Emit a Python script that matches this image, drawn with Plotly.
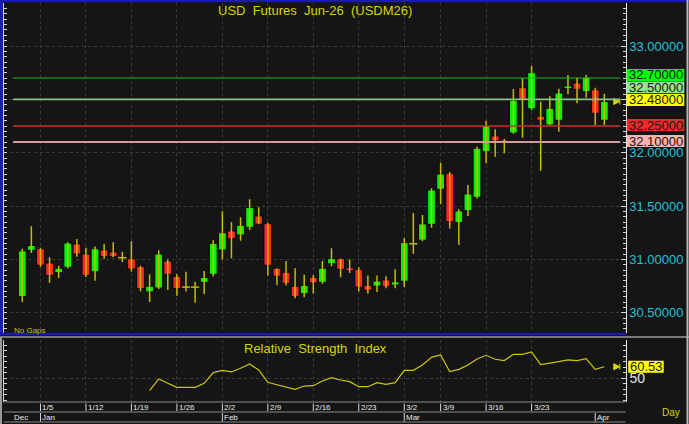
import plotly.graph_objects as go

W, H = 689, 424

# ---------------- data ----------------
open_ = [30.65, 31.085, 31.10, 30.966, 30.875, 30.926, 31.145, 31.05, 30.885, 31.088,
         31.07, 31.016, 31.007, 30.932, 30.695, 30.732, 30.985, 30.842, 30.74, 30.74,
         30.785, 30.86, 31.088, 31.266, 31.229, 31.30, 31.407, 31.335, 30.917, 30.879,
         30.748, 30.679, 30.832, 30.785, 30.96, 31.007, 30.92, 30.907, 30.757, 30.75,
         30.807, 30.76, 30.795, 31.147, 31.18, 31.329, 31.657, 31.807, 31.344, 31.456,
         31.582, 32.009, 32.157, 32.119, 32.185, 32.609, 32.412, 32.341, 32.26, 32.304,
         32.60, 32.653, 32.572, 32.59, 32.304]
high_ = [31.10, 31.31, 31.11, 31.02, 30.94, 31.16, 31.19, 31.11, 31.12, 31.145,
         31.16, 31.072, 31.17, 30.94, 30.86, 31.085, 31.00, 30.86, 30.885, 30.79,
         30.89, 31.18, 31.45, 31.35, 31.395, 31.563, 31.488, 31.344, 30.917, 30.985,
         30.917, 30.857, 30.854, 30.985, 31.104, 31.007, 31.00, 30.926, 30.85, 30.85,
         30.842, 30.907, 31.20, 31.435, 31.416, 31.666, 31.906, 31.82, 31.472, 31.697,
         32.056, 32.30, 32.22, 32.131, 32.597, 32.697, 32.813, 32.478, 32.53, 32.60,
         32.728, 32.703, 32.728, 32.609, 32.553]
low_ = [30.60, 31.06, 30.93, 30.78, 30.826, 30.917, 31.025, 30.835, 30.80, 31.007,
        31.02, 30.976, 30.885, 30.70, 30.60, 30.722, 30.713, 30.66, 30.70, 30.594,
        30.676, 30.84, 31.00, 31.01, 31.175, 31.276, 31.33, 30.85, 30.757, 30.757,
        30.635, 30.645, 30.68, 30.772, 30.935, 30.832, 30.873, 30.70, 30.68, 30.695,
        30.73, 30.729, 30.74, 31.053, 31.17, 31.297, 31.516, 31.29, 31.135, 31.407,
        31.57, 31.90, 31.963, 31.995, 32.178, 32.14, 32.40, 31.83, 32.257, 32.197,
        32.547, 32.463, 32.515, 32.26, 32.26]
close_ = [31.08, 31.13, 30.945, 30.85, 30.917, 31.154, 31.05, 30.85, 31.10, 31.025,
          31.025, 31.016, 30.91, 30.725, 30.748, 31.05, 30.86, 30.725, 30.74, 30.74,
          30.83, 31.15, 31.25, 31.194, 31.32, 31.485, 31.33, 30.945, 30.842, 30.776,
          30.65, 30.757, 30.779, 30.917, 31.007, 30.907, 30.894, 30.74, 30.71, 30.797,
          30.744, 30.79, 31.157, 31.147, 31.332, 31.65, 31.80, 31.353, 31.454, 31.613,
          32.041, 32.253, 32.11, 32.097, 32.491, 32.487, 32.75, 32.304, 32.416, 32.56,
          32.625, 32.594, 32.707, 32.369, 32.48]
rsi = [None] * 14 + [
    38.8, 49.4, 45.5, 41.8, 41.8, 41.8, 45.5, 55.2, 57.3, 55.8,
    59.1, 63.0, 57.6, 46.4, 44.2, 42.4, 40.0, 43.0, 43.3, 47.6,
    50.6, 48.5, 47.0, 42.4, 42.4, 46.1, 44.5, 46.1, 57.3, 57.3,
    62.1, 69.1, 71.2, 56.1, 58.2, 62.1, 67.6, 70.9, 67.3, 66.1,
    71.8, 71.8, 73.9, 62.4, 63.6, 65.2, 66.7, 66.1, 67.9, 58.2, 60.53]

week_labels = ["1/5", "1/12", "1/19", "1/26", "2/2", "2/9", "2/16", "2/23",
               "3/2", "3/9", "3/16", "3/23"]
week_idx = [2, 7, 12, 17, 22, 27, 32, 37, 42, 46, 51, 56]
month_labels = ["Jan", "Feb", "Mar", "Apr"]
month_idx = [2, 22, 42, 63]

levels = [32.70, 32.50, 32.25, 32.10]
level_line_colors = ["#1fb81f", "#86c486", "#c83232", "#d49a9a"]
level_line_widths = [1, 1.6, 1.4, 2]
level_box_colors = ["#00ff00", "#8fe88f", "#ec2b2b", "#f7b3b3"]
level_shift = [3, 12, 1, 1]
last_shift = 1.5

# ---------------- helpers ----------------
def fx(p):
    return p / W

def fy(p):
    return 1 - p / H

n = len(close_)
xs = list(range(n))

BG = "#151515"
GRID = "#3a3a3a"
YEL = "#d6d600"
CYAN = "#1cc3d8"
FONT = "Liberation Sans, Arial, sans-serif"

fig = go.Figure()

# wicks
wx, wy = [], []
for i in xs:
    wx += [i, i, None]
    wy += [low_[i], high_[i], None]
fig.add_trace(go.Scatter(x=wx, y=wy, mode="lines", line=dict(color="#c4bc00", width=1.5),
                         hoverinfo="skip", showlegend=False, xaxis="x", yaxis="y"))

# bodies
fig.add_trace(go.Bar(
    x=xs,
    base=[min(o, c) for o, c in zip(open_, close_)],
    y=[abs(c - o) for o, c in zip(open_, close_)],
    width=0.86,
    marker=dict(color=["#00f400" if c >= o else "#ff2828" for o, c in zip(open_, close_)],
                line=dict(color="#050505", width=1)),
    hoverinfo="skip", showlegend=False, xaxis="x", yaxis="y"))

# doji ticks
dx, dy = [], []
for i in xs:
    if open_[i] == close_[i]:
        dx += [i - 0.45, i + 0.45, None]
        dy += [open_[i], open_[i], None]
fig.add_trace(go.Scatter(x=dx, y=dy, mode="lines", line=dict(color="#c4bc00", width=1.5),
                         hoverinfo="skip", showlegend=False, xaxis="x", yaxis="y"))

# last price marker
fig.add_trace(go.Scatter(x=[n + 0.7], y=[close_[-1]], mode="markers",
                         marker=dict(symbol="arrow-bar-right", size=6, color=YEL,
                                     line=dict(color=YEL, width=1)),
                         hoverinfo="skip", showlegend=False, xaxis="x", yaxis="y"))

# RSI
fig.add_trace(go.Scatter(x=xs, y=rsi, mode="lines", line=dict(color="#cdc800", width=1.2),
                         hoverinfo="skip", showlegend=False, xaxis="x2", yaxis="y2"))
fig.add_trace(go.Scatter(x=[n + 0.7], y=[rsi[-1]], mode="markers",
                         marker=dict(symbol="arrow-bar-right", size=6, color=YEL,
                                     line=dict(color=YEL, width=1)),
                         hoverinfo="skip", showlegend=False, xaxis="x2", yaxis="y2"))

# invisible traces for left tick axes
fig.add_trace(go.Scatter(x=[None], y=[None], xaxis="x", yaxis="y3", showlegend=False))
fig.add_trace(go.Scatter(x=[None], y=[None], xaxis="x2", yaxis="y4", showlegend=False))

XDOM = [fx(4), fx(625.7)]
XRANGE = [-2.01, 66.35]
YRANGE = [30.31, 33.403]
RRANGE = [28.8, 84.8]

xcommon = dict(domain=XDOM, range=XRANGE, tickmode="array", tickvals=week_idx,
               showticklabels=False, ticks="", showgrid=True, gridcolor=GRID,
               griddash="dot", gridwidth=1, zeroline=False, showline=False, fixedrange=True)

fig.update_layout(
    width=W, height=H,
    margin=dict(l=0, r=0, t=0, b=0),
    paper_bgcolor=BG, plot_bgcolor=BG,
    showlegend=False,
    font=dict(family=FONT),
    xaxis=dict(anchor="y", **xcommon),
    xaxis2=dict(anchor="y2", matches="x", **xcommon),
    yaxis=dict(domain=[fy(333), fy(3)], range=YRANGE, side="right", anchor="x",
               tick0=0, dtick=0.5, tickformat=".5f", labelalias={"32.50000": ""},
               tickfont=dict(color=CYAN, size=13, family=FONT),
               ticks="inside", ticklen=5, tickcolor="#d8d8d8", tickwidth=1,
               minor=dict(tick0=0, dtick=0.05, ticks="inside", ticklen=3,
                          tickcolor="#d8d8d8", showgrid=False),
               showline=True, linecolor="#e8e8e8", linewidth=1,
               showgrid=True, gridcolor=GRID, griddash="dot", zeroline=False),
    yaxis3=dict(overlaying="y", side="left", anchor="x", range=YRANGE,
                tick0=0, dtick=0.05, ticks="inside", ticklen=3, tickcolor="#d8d8d8",
                showticklabels=False, showgrid=False, zeroline=False,
                showline=True, linecolor="#d0d0d0", linewidth=1),
    yaxis2=dict(domain=[fy(401.7), fy(340)], range=RRANGE, side="right", anchor="x2",
                tick0=0, dtick=50, tickfont=dict(color="#e6e6e6", size=14, family=FONT),
                ticks="inside", ticklen=5, tickcolor="#d8d8d8",
                minor=dict(tick0=0, dtick=5, ticks="inside", ticklen=3,
                           tickcolor="#d8d8d8", showgrid=False),
                showline=True, linecolor="#e8e8e8", linewidth=1,
                showgrid=True, gridcolor=GRID, griddash="dot", zeroline=False),
    yaxis4=dict(overlaying="y2", side="left", anchor="x2", range=RRANGE,
                tick0=0, dtick=5, ticks="inside", ticklen=3, tickcolor="#d8d8d8",
                showticklabels=False, showgrid=False, zeroline=False,
                showline=True, linecolor="#d0d0d0", linewidth=1),
)

shapes = []
annots = []

# level lines and their labels
for lv, lc, lw, bc, sh in zip(levels, level_line_colors, level_line_widths,
                              level_box_colors, level_shift):
    shapes.append(dict(type="line", xref="x domain", yref="y", x0=0.0145, x1=0.991,
                       y0=lv, y1=lv, line=dict(color=lc, width=lw), layer="above"))
    shapes.append(dict(type="rect", xref="x domain", yref="y", xsizemode="pixel",
                       ysizemode="pixel", xanchor=1, yanchor=lv, x0=1, x1=58.6,
                       y0=sh - 5.9, y1=sh + 5.9, fillcolor=bc, line=dict(width=0),
                       layer="above"))
    annots.append(dict(xref="x domain", yref="y", x=1, y=lv, xanchor="left",
                       yanchor="middle", xshift=1, yshift=sh, showarrow=False,
                       text=f"{lv:.5f}", font=dict(color="#151515", size=13, family=FONT)))

# last price label
shapes.append(dict(type="rect", xref="x domain", yref="y", xsizemode="pixel",
                   ysizemode="pixel", xanchor=1, yanchor=close_[-1], x0=1, x1=58.6,
                   y0=last_shift - 5.9, y1=last_shift + 5.9, fillcolor="#ffff00",
                   line=dict(width=0), layer="above"))
annots.append(dict(xref="x domain", yref="y", x=1, y=close_[-1], xanchor="left",
                   yanchor="middle", xshift=1, yshift=last_shift, showarrow=False,
                   text=f"{close_[-1]:.5f}", font=dict(color="#151515", size=13, family=FONT)))

# RSI last label
shapes.append(dict(type="rect", xref="x2 domain", yref="y2", xsizemode="pixel",
                   ysizemode="pixel", xanchor=1, yanchor=rsi[-1], x0=2.5, x1=38,
                   y0=-6, y1=6, fillcolor="#ffff00", line=dict(width=0), layer="above"))
annots.append(dict(xref="x2 domain", yref="y2", x=1, y=rsi[-1], xanchor="left",
                   yanchor="middle", xshift=2, showarrow=False,
                   text=f"{rsi[-1]:.2f}", font=dict(color="#151515", size=13, family=FONT)))

# titles
annots.append(dict(xref="paper", yref="paper", x=fx(315), y=fy(10), showarrow=False,
                   xanchor="center", yanchor="middle",
                   text="USD\u00a0\u00a0Futures\u00a0\u00a0Jun-26\u00a0\u00a0(USDM26)",
                   font=dict(color=YEL, size=13, family=FONT)))
annots.append(dict(xref="paper", yref="paper", x=fx(315), y=fy(348), showarrow=False,
                   xanchor="center", yanchor="middle",
                   text="Relative\u00a0\u00a0Strength\u00a0\u00a0Index",
                   font=dict(color=YEL, size=13, family=FONT)))
annots.append(dict(xref="paper", yref="paper", x=fx(12), y=fy(330), showarrow=False,
                   xanchor="left", yanchor="middle", text="No Gaps",
                   font=dict(color="#c8c400", size=8, family=FONT)))
annots.append(dict(xref="paper", yref="paper", x=fx(671), y=fy(412), showarrow=False,
                   xanchor="center", yanchor="middle", text="Day",
                   font=dict(color=YEL, size=10, family=FONT)))

# bottom date rows: frame lines
for yy in [402, 412, 422]:
    shapes.append(dict(type="line", xref="paper", yref="paper", x0=fx(4), x1=fx(625.7),
                       y0=fy(yy), y1=fy(yy), line=dict(color="#8a8a8a", width=1)))
# week dividers + labels
for lab, ix in zip(week_labels, week_idx):
    shapes.append(dict(type="line", xref="x2", yref="paper", x0=ix, x1=ix,
                       y0=fy(403.5), y1=fy(411), line=dict(color="#d8d8d8", width=1)))
    annots.append(dict(xref="x2", yref="paper", x=ix, y=fy(407.5), xanchor="left",
                       yanchor="middle", xshift=0, showarrow=False, text=lab,
                       font=dict(color="#eaeaea", size=8, family=FONT)))
# month dividers + labels
annots.append(dict(xref="paper", yref="paper", x=fx(12), y=fy(417), xanchor="left",
                   yanchor="middle", showarrow=False, text="Dec",
                   font=dict(color="#eaeaea", size=8, family=FONT)))
for lab, ix in zip(month_labels, month_idx):
    shapes.append(dict(type="line", xref="x2", yref="paper", x0=ix, x1=ix,
                       y0=fy(413), y1=fy(421.5), line=dict(color="#d8d8d8", width=1)))
    annots.append(dict(xref="x2", yref="paper", x=ix, y=fy(417), xanchor="left",
                       yanchor="middle", xshift=0, showarrow=False, text=lab,
                       font=dict(color="#eaeaea", size=8, family=FONT)))

# panel frames
BLUE = "#1a1ab4"
shapes.append(dict(type="line", xref="paper", yref="paper", x0=0, x1=1, y0=fy(1), y1=fy(1),
                   line=dict(color=BLUE, width=2.5)))
shapes.append(dict(type="line", xref="paper", yref="paper", x0=fx(1.5), x1=fx(1.5),
                   y0=fy(0), y1=fy(335), line=dict(color=BLUE, width=3)))
shapes.append(dict(type="line", xref="paper", yref="paper", x0=0, x1=fx(626), y0=fy(334),
                   y1=fy(334), line=dict(color=BLUE, width=2.5)))
shapes.append(dict(type="line", xref="paper", yref="paper", x0=0, x1=1, y0=fy(337),
                   y1=fy(337), line=dict(color="#9a9a9a", width=1.5)))
shapes.append(dict(type="line", xref="paper", yref="paper", x0=fx(687.5), x1=fx(687.5),
                   y0=0, y1=1, line=dict(color="#b8b8b8", width=2)))
shapes.append(dict(type="line", xref="paper", yref="paper", x0=fx(1), x1=fx(1),
                   y0=0, y1=fy(337), line=dict(color="#9a9a9a", width=2)))

fig.update_layout(shapes=shapes, annotations=annots)
fig.write_html(
    "out.html",
    config={"displayModeBar": False},
    post_script="document.body.style.margin='0';document.body.style.overflow='hidden';",
)
